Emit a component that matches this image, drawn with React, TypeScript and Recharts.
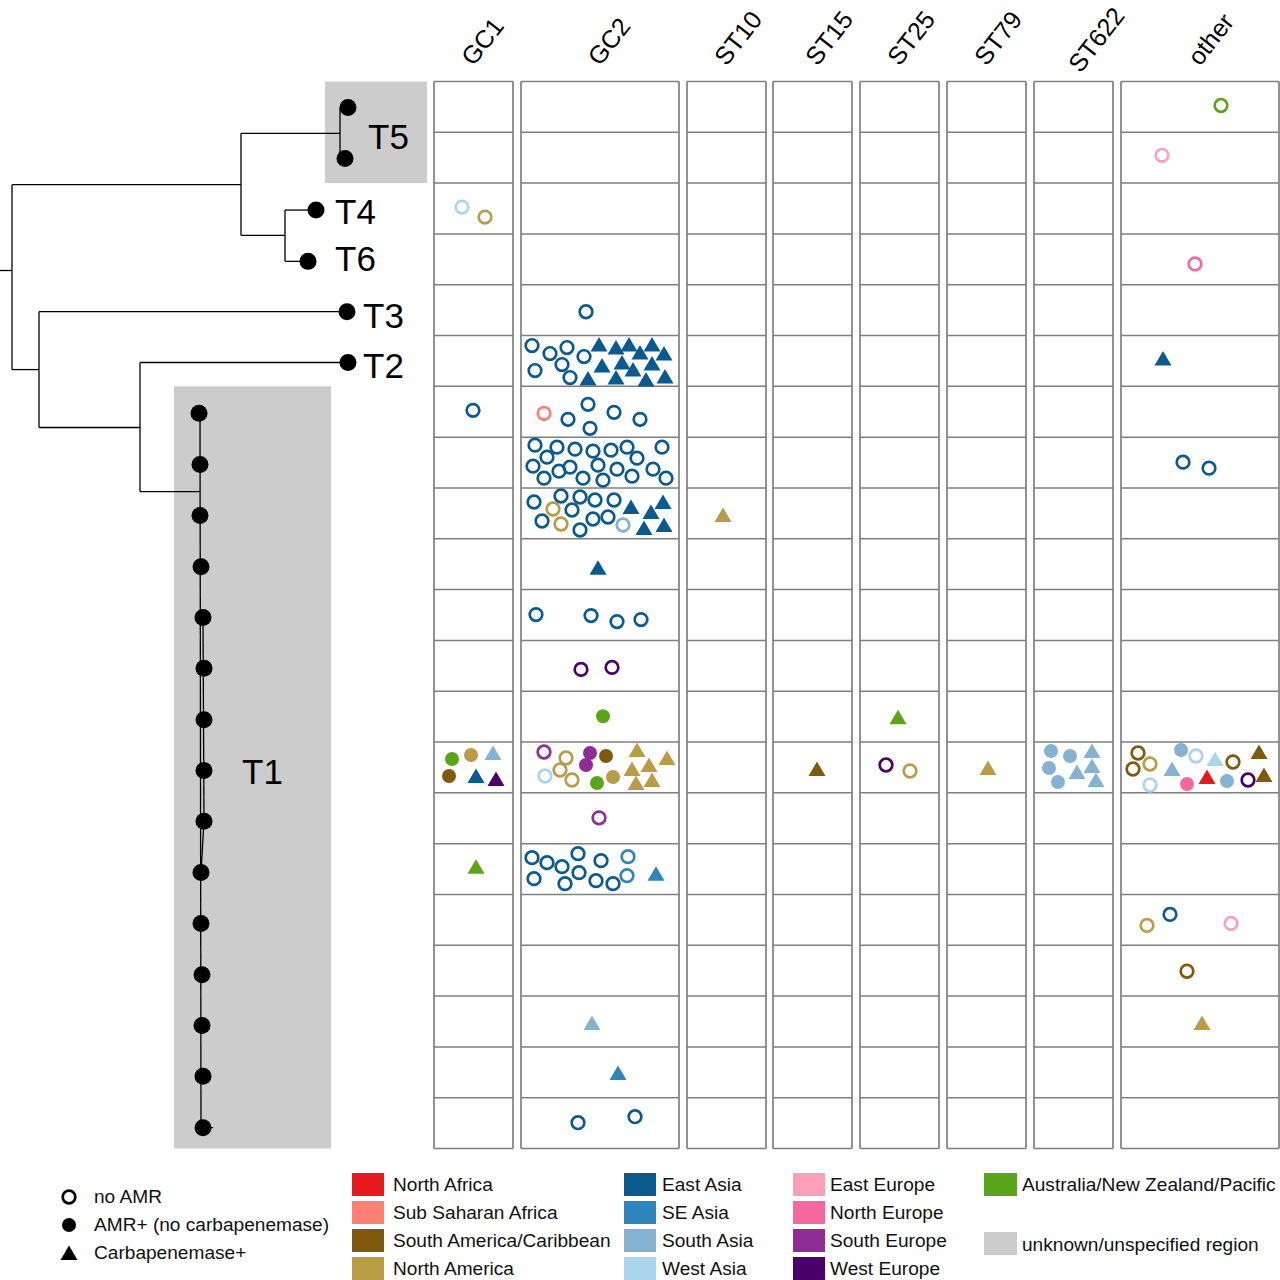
import { ReferenceArea, ReferenceLine, Scatter, ScatterChart, XAxis, YAxis } from "recharts"

const ROW_COUNT = 21
const ROW_UNITS = 50.81

const regionColors: Record<string, string> = {
  "North Africa": "#e41a1c",
  "Sub Saharan Africa": "#ff8073",
  "South America/Caribbean": "#7f5a0c",
  "North America": "#b99c48",
  "East Asia": "#0a5a8f",
  "SE Asia": "#2f86ba",
  "South Asia": "#86b2d2",
  "West Asia": "#a9d6ec",
  "East Europe": "#fba0b8",
  "North Europe": "#f768a1",
  "South Europe": "#902c96",
  "West Europe": "#49006a",
  "Australia/New Zealand/Pacific": "#5ba51a",
  "unknown/unspecified region": "#cccccc",
}

const legendColumns = [
  ["North Africa", "Sub Saharan Africa", "South America/Caribbean", "North America"],
  ["East Asia", "SE Asia", "South Asia", "West Asia"],
  ["East Europe", "North Europe", "South Europe", "West Europe"],
]
const statusLabels = ["no AMR", "AMR+ (no carbapenemase)", "Carbapenemase+"]

const NAF = "North Africa"
const SSA = "Sub Saharan Africa"
const SAM = "South America/Caribbean"
const NAM = "North America"
const EA = "East Asia"
const SEA = "SE Asia"
const SA = "South Asia"
const WA = "West Asia"
const EE = "East Europe"
const NE = "North Europe"
const SE = "South Europe"
const WE = "West Europe"
const AUS = "Australia/New Zealand/Pacific"

// [row, region, status (o none, f amr, t carbapenemase), [[jitter x, jitter y], ...]]
type Group = [number, string, string, number[][]]

const gc1Groups: Group[] = [
  [2, WA, "o", [[28, 24]]],
  [2, NAM, "o", [[51, 34]]],
  [6, EA, "o", [[39, 24]]],
  [13, AUS, "f", [[18, 17]]],
  [13, NAM, "f", [[37, 13]]],
  [13, SA, "t", [[59, 11]]],
  [13, SAM, "f", [[15, 34]]],
  [13, EA, "t", [[42, 34]]],
  [13, WE, "t", [[62, 37]]],
  [15, AUS, "t", [[42, 23]]],
]

const gc2Groups: Group[] = [
  [4, EA, "o", [[65, 27]]],
  [5, EA, "o", [[11, 10], [29, 18], [46, 12], [63, 21], [41, 29], [14, 35], [49, 42]]],
  [5, EA, "t", [[78, 9], [95, 12], [108, 9], [131, 9], [119, 17], [143, 18], [81, 30], [101, 27], [112, 34], [131, 28], [67, 43], [95, 42], [125, 44], [144, 41]]],
  [6, SSA, "o", [[23, 27]]],
  [6, EA, "o", [[47, 33], [67, 18], [69, 42], [93, 26], [119, 33]]],
  [7, EA, "o", [[14, 8], [36, 10], [54, 12], [72, 14], [90, 13], [106, 10], [141, 10], [26, 20], [116, 21], [12, 29], [38, 34], [49, 30], [77, 28], [96, 32], [132, 32], [23, 41], [62, 41], [82, 43], [111, 39], [145, 41]]],
  [8, EA, "o", [[13, 14], [40, 8], [59, 9], [74, 12], [93, 12], [51, 22], [21, 33], [72, 31], [87, 29], [59, 42]]],
  [8, NAM, "o", [[32, 21], [40, 36]]],
  [8, SA, "o", [[102, 37]]],
  [8, EA, "t", [[110, 19], [142, 14], [130, 24], [123, 40], [143, 37]]],
  [9, EA, "t", [[77, 29]]],
  [10, EA, "o", [[15, 25], [70, 26], [96, 32], [120, 30]]],
  [11, WE, "o", [[60, 29], [91, 27]]],
  [12, AUS, "f", [[82, 25]]],
  [13, SE, "o", [[23, 10]]],
  [13, NAM, "o", [[45, 16], [39, 28], [51, 38]]],
  [13, WA, "o", [[24, 34]]],
  [13, SE, "f", [[69, 11], [65, 23]]],
  [13, SAM, "f", [[85, 14]]],
  [13, NAM, "f", [[92, 35]]],
  [13, AUS, "f", [[76, 41]]],
  [13, NAM, "t", [[116, 8], [146, 16], [128, 23], [111, 27], [115, 41], [131, 38]]],
  [14, SE, "o", [[78, 25]]],
  [15, EA, "o", [[11, 14], [26, 19], [41, 23], [57, 10], [80, 17], [13, 35], [58, 29], [44, 40], [75, 37], [92, 40]]],
  [15, SEA, "o", [[107, 13], [106, 32]]],
  [15, SEA, "t", [[135, 30]]],
  [18, SA, "t", [[71, 27]]],
  [19, SEA, "t", [[97, 26]]],
  [20, EA, "o", [[57, 25], [114, 19]]],
]

const st10Groups: Group[] = [[8, NAM, "t", [[36, 27]]]]
const st15Groups: Group[] = [[13, SAM, "t", [[44, 27]]]]
const st25Groups: Group[] = [
  [12, AUS, "t", [[38, 26]]],
  [13, WE, "o", [[26, 23]]],
  [13, NAM, "o", [[50, 29]]],
]
const st79Groups: Group[] = [[13, NAM, "t", [[41, 26]]]]
const st622Groups: Group[] = [
  [13, SA, "f", [[17, 9], [36, 14], [15, 26], [24, 40]]],
  [13, SA, "t", [[58, 9], [58, 24], [43, 30], [62, 38]]],
]

const otherGroups: Group[] = [
  [0, AUS, "o", [[100, 24]]],
  [1, EE, "o", [[41, 23]]],
  [3, NE, "o", [[74, 30]]],
  [5, EA, "t", [[42, 23]]],
  [7, EA, "o", [[62, 25], [88, 31]]],
  [13, SAM, "o", [[17, 11], [12, 27], [112, 20]]],
  [13, NAM, "o", [[29, 22]]],
  [13, WA, "o", [[29, 43], [75, 14]]],
  [13, SA, "f", [[60, 8], [106, 39]]],
  [13, WA, "t", [[94, 17]]],
  [13, SA, "t", [[51, 27]]],
  [13, SAM, "t", [[138, 10], [143, 33]]],
  [13, NE, "f", [[66, 42]]],
  [13, NAF, "t", [[86, 35]]],
  [13, WE, "o", [[127, 38]]],
  [16, EA, "o", [[49, 20]]],
  [16, NAM, "o", [[26, 31]]],
  [16, EE, "o", [[110, 29]]],
  [17, SAM, "o", [[66, 26]]],
  [18, NAM, "t", [[81, 27]]],
]

const facetNames = ["GC1", "GC2", "ST10", "ST15", "ST25", "ST79", "ST622", "other"]
const facetLefts = [434, 521, 687, 773, 860, 947, 1034, 1121]
const facetWidths = [79, 158, 79, 79, 79, 79, 79, 158]
const titleShifts = [0, 0, 0, 5, 0, 0, 7, 0]
const titleBases = [67, 67, 67, 67, 67, 67, 74, 67]
const facetGroups = [gc1Groups, gc2Groups, st10Groups, st15Groups, st25Groups, st79Groups, st622Groups, otherGroups]

const rowLines = Array.from({ length: ROW_COUNT + 1 }, (_, i) => i)

// tree: [x1, row1, x2, row2]
const treeBranches = [
  [0, 3.72, 12, 3.72],
  [12, 2.03, 12, 5.67],
  [12, 2.03, 241, 2.03],
  [241, 1.02, 241, 3.03],
  [241, 1.02, 340, 1.02],
  [340, 0.51, 340, 1.515],
  [340, 0.51, 348, 0.51],
  [340, 1.515, 345, 1.515],
  [241, 3.03, 285, 3.03],
  [285, 2.53, 285, 3.54],
  [285, 2.53, 316, 2.53],
  [285, 3.54, 308, 3.54],
  [12, 5.67, 39, 5.67],
  [39, 4.53, 39, 6.81],
  [39, 4.53, 347, 4.53],
  [39, 6.81, 140, 6.81],
  [140, 5.53, 140, 8.07],
  [140, 5.53, 348, 5.53],
  [140, 8.07, 200, 8.07],
  [200, 6.53, 201, 20.59],
  [203, 10.55, 204, 14.56],
  [204, 14.56, 201, 15.57],
  [203, 20.59, 213, 20.59],
]

const tipX = [348, 345, 316, 308, 347, 348, 199, 200, 200, 201, 203, 204, 204, 204, 204, 201, 201, 202, 202, 203, 203]
const tipRows = [0.51, 1.515, 2.53, 3.54, 4.53, 5.53, 6.53, 7.54, 8.54, 9.55, 10.55, 11.55, 12.56, 13.56, 14.56, 15.57, 16.57, 17.58, 18.58, 19.58, 20.59]
const tips = tipX.map((x, i) => ({ x, y: tipRows[i] }))

const treeLabels = [
  { name: "T5", x: 368, y: 1.08 },
  { name: "T4", x: 335, y: 2.55 },
  { name: "T6", x: 335, y: 3.49 },
  { name: "T3", x: 363, y: 4.61 },
  { name: "T2", x: 363, y: 5.59 },
  { name: "T1", x: 242, y: 13.58 },
]

const GRID = "#7f7f7f"
const FONT = "'Liberation Sans', Arial, sans-serif"

function marker(status: string, color: string) {
  return (p: any) => {
    if (status === "o") return <circle cx={p.cx} cy={p.cy} r={6.3} fill="none" stroke={color} strokeWidth={2.7} />
    if (status === "f") return <circle cx={p.cx} cy={p.cy} r={7} fill={color} />
    return <polygon points={`${p.cx},${p.cy - 7.5} ${p.cx - 8.5},${p.cy + 7} ${p.cx + 8.5},${p.cy + 7}`} fill={color} />
  }
}

function Facet({ index }: { index: number }) {
  const w = facetWidths[index]
  const name = facetNames[index]
  const shift = titleShifts[index]
  const base = titleBases[index]
  return (
    <div style={{ position: "absolute", left: facetLefts[index] - 1, top: 0 }}>
      <ScatterChart width={w + 46} height={1150} margin={{ top: 0, right: 45, bottom: 1.5, left: 1 }}>
        <XAxis
          type="number"
          dataKey="x"
          orientation="top"
          height={81.5}
          domain={[0, w]}
          ticks={[w / 2]}
          axisLine={false}
          tickLine={false}
          interval={0}
          tick={(p: any) => (
            <text
              x={p.x + shift}
              y={base}
              transform={`rotate(-52 ${p.x + shift} ${base})`}
              fontSize={25}
              fontFamily={FONT}
              fill="#000"
            >
              {name}
            </text>
          )}
        />
        <YAxis type="number" dataKey="y" hide reversed domain={[0, ROW_COUNT]} />
        {rowLines.map((r) => (
          <ReferenceLine key={r} y={r} stroke={GRID} strokeWidth={1.5} />
        ))}
        <ReferenceLine x={0} stroke={GRID} strokeWidth={1.7} />
        <ReferenceLine x={w} stroke={GRID} strokeWidth={1.7} />
        {facetGroups[index].map(([row, region, status, pts], i) => (
          <Scatter
            key={i}
            isAnimationActive={false}
            data={pts.map(([jx, jy]) => ({ x: jx, y: row + jy / ROW_UNITS }))}
            shape={marker(status, regionColors[region])}
          />
        ))}
      </ScatterChart>
    </div>
  )
}

function Tree() {
  return (
    <div style={{ position: "absolute", left: 0, top: 0 }}>
      <ScatterChart width={432} height={1150} margin={{ top: 81.5, right: 0, bottom: 1.5, left: 0 }}>
        <XAxis type="number" dataKey="x" hide domain={[0, 432]} />
        <YAxis type="number" dataKey="y" hide reversed domain={[0, ROW_COUNT]} />
        <ReferenceArea x1={325} x2={427} y1={0} y2={2} fill="#cccccc" fillOpacity={1} stroke="none" />
        <ReferenceArea x1={174} x2={331} y1={6} y2={ROW_COUNT} fill="#cccccc" fillOpacity={1} stroke="none" />
        {treeBranches.map(([x1, y1, x2, y2], i) => (
          <ReferenceLine
            key={i}
            segment={[{ x: x1, y: y1 }, { x: x2, y: y2 }]}
            stroke="#000"
            strokeWidth={1.3}
          />
        ))}
        <Scatter
          isAnimationActive={false}
          data={tips}
          shape={(p: any) => <circle cx={p.cx} cy={p.cy} r={8.5} fill="#000" />}
        />
        <Scatter
          isAnimationActive={false}
          data={treeLabels}
          shape={(p: any) => (
            <text x={p.cx} y={p.cy} dominantBaseline="central" fontSize={35} fontFamily={FONT} fill="#000">
              {p.name}
            </text>
          )}
        />
      </ScatterChart>
    </div>
  )
}

const labelStyle: any = {
  position: "absolute",
  fontFamily: FONT,
  fontSize: 19.1,
  lineHeight: "28px",
  color: "#111",
  whiteSpace: "nowrap",
}

function Swatch({ left, top, width, color }: { left: number; top: number; width: number; color: string }) {
  return <div style={{ position: "absolute", left, top, width, height: 23, background: color }} />
}

function Legend() {
  const swatchLefts = [352, 624, 793]
  const swatchWidths = [32, 32, 32]
  const textLefts = [393, 662, 830]
  const rowTops = [1173, 1201, 1229, 1257]
  return (
    <div>
      {statusLabels.map((label, i) => (
        <div key={label}>
          <svg style={{ position: "absolute", left: 59, top: 1187 + i * 28 }} width={20} height={20}>
            {marker(["o", "f", "t"][i], "#000")({ cx: 10, cy: 10 })}
          </svg>
          <div style={{ ...labelStyle, left: 94, top: 1183 + i * 28 }}>{label}</div>
        </div>
      ))}
      {legendColumns.map((col, c) =>
        col.map((region, r) => (
          <div key={region}>
            <Swatch left={swatchLefts[c]} top={rowTops[r]} width={swatchWidths[c]} color={regionColors[region]} />
            <div style={{ ...labelStyle, left: textLefts[c], top: rowTops[r] - 2 }}>{region}</div>
          </div>
        ))
      )}
      <Swatch left={984} top={1173} width={33} color={regionColors[AUS]} />
      <div style={{ ...labelStyle, left: 1022, top: 1171 }}>{AUS}</div>
      <Swatch left={984} top={1232} width={33} color={regionColors["unknown/unspecified region"]} />
      <div style={{ ...labelStyle, left: 1022, top: 1231 }}>unknown/unspecified region</div>
    </div>
  )
}

export default function App() {
  return (
    <div style={{ position: "absolute", left: 0, top: 0, width: 1280, height: 1280, background: "#fff", overflow: "hidden" }}>
      <Tree />
      {facetNames.map((name, i) => (
        <Facet key={name} index={i} />
      ))}
      <Legend />
    </div>
  )
}
